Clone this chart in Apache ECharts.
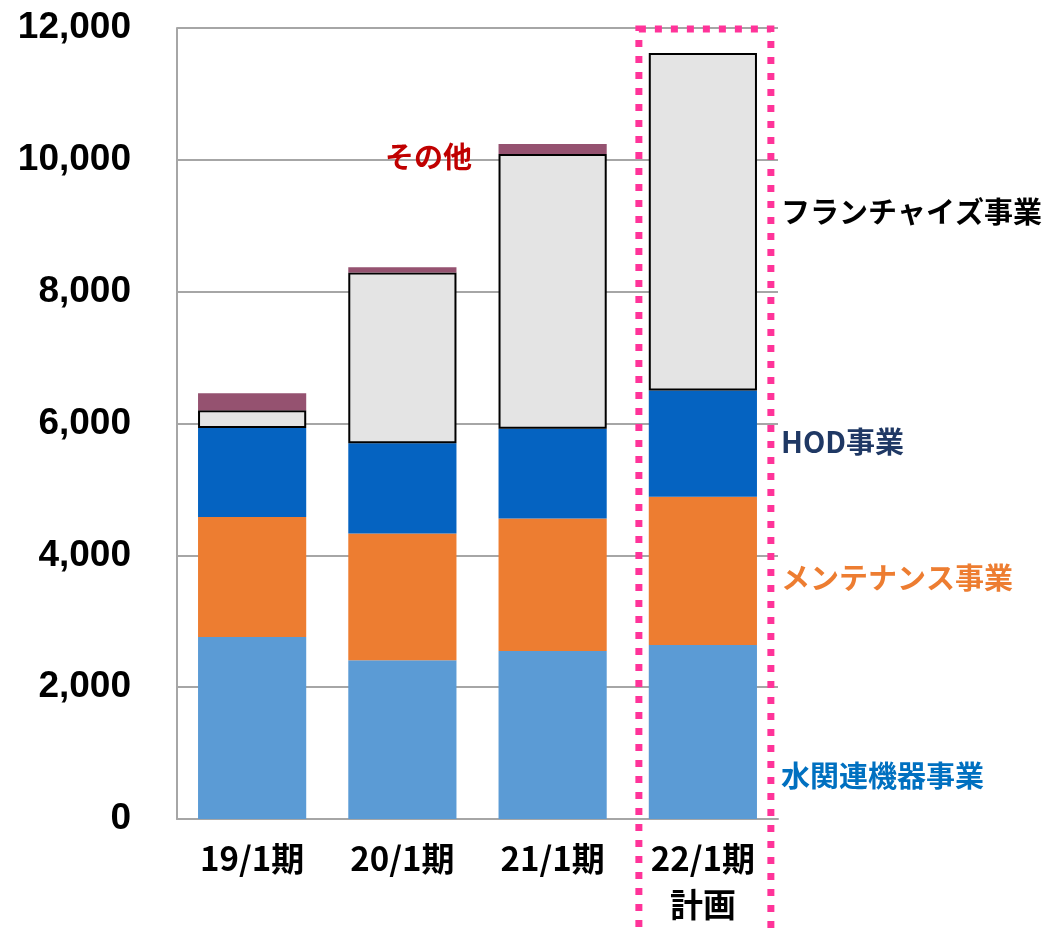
<!DOCTYPE html>
<html>
<head>
<meta charset="utf-8">
<script src="https://cdn.jsdelivr.net/npm/echarts@6/dist/echarts.min.js"></script>
<style>
html, body { margin: 0; padding: 0; background: #fff; }
#main { width: 1047px; height: 933px; }
</style>
</head>
<body>
<div id="main"></div>
<script>
// カテゴリ
var categories = ['19/1期', '20/1期', '21/1期', '22/1期\n計画'];
// 事業別の値
var mizu = [2760, 2410, 2550, 2640];       // 水関連機器事業
var mente = [1820, 1920, 2010, 2250];      // メンテナンス事業
var hod = [1350, 1370, 1360, 1610];        // HOD事業
var franchise = [270, 2590, 4170, 5120];   // フランチャイズ事業
var sonota = [260, 80, 150, 0];            // その他
var yTicks = [0, 2000, 4000, 6000, 8000, 10000, 12000];

var myChart = echarts.init(document.getElementById('main'));

function bar (name, data, color, extra) {
  var s = {
    name: name,
    type: 'bar',
    stack: 'total',
    barWidth: '72%',
    data: data,
    itemStyle: { color: color }
  };
  if (extra) s.itemStyle = Object.assign(s.itemStyle, extra);
  return s;
}

var option = {
  animation: false,
  grid: { left: 177, right: 269, top: 28, bottom: 114 },
  xAxis: {
    type: 'category',
    data: categories,
    axisLine: { lineStyle: { color: '#A6A6A6', width: 2 } },
    axisTick: { inside: true, length: 10, lineStyle: { color: '#A6A6A6', width: 2 } },
    axisLabel: {
      color: '#000',
      fontWeight: 'bold',
      fontSize: 33,
      lineHeight: 46,
      margin: 16,
      fontFamily: '"Noto Sans CJK JP"'
    }
  },
  yAxis: {
    type: 'value',
    min: yTicks[0],
    max: yTicks[yTicks.length - 1],
    interval: 2000,
    axisLine: { show: true, lineStyle: { color: '#A6A6A6', width: 2 } },
    axisTick: { show: false },
    splitLine: { lineStyle: { color: '#A6A6A6', width: 2 } },
    axisLabel: {
      color: '#000',
      fontWeight: 'bold',
      fontSize: 37,
      margin: 46,
      fontFamily: '"Liberation Sans", Arial',
      formatter: function (v) { return v.toLocaleString('en-US'); }
    }
  },
  series: [
    bar('水関連機器事業', mizu, '#5B9BD5'),
    bar('メンテナンス事業', mente, '#ED7D31'),
    bar('HOD事業', hod, '#0563C1'),
    bar('フランチャイズ事業', franchise, '#E4E4E4', { borderColor: '#000', borderWidth: 2 }),
    bar('その他', sonota, '#955270')
  ]
};

myChart.setOption(option);

// 右側の凡例テキストと計画の点線枠
var lbl = { fontSize: 29, fontWeight: 'bold', fontFamily: '"Noto Sans CJK JP"' };
var cx = myChart.convertToPixel({ xAxisIndex: 0 }, categories[3]);
var yTop = myChart.convertToPixel({ yAxisIndex: 0 }, 12000);
function txt (x, y, text, color) {
  return { type: 'text', x: x, y: y, style: Object.assign({ text: text, fill: color, verticalAlign: 'middle' }, lbl) };
}
myChart.setOption({
  graphic: [
    {
      type: 'rect',
      shape: { x: cx - 64, y: yTop + 1, width: 132, height: 933 },
      style: { fill: 'none', stroke: '#FF3399', lineWidth: 7, lineDash: [7, 9] },
      z: 100
    },
    txt(781, 212, 'フランチャイズ事業', '#000'),
    txt(781, 442, 'HOD事業', '#1F3864'),
    txt(781, 578, 'メンテナンス事業', '#ED7D31'),
    txt(781, 776, '水関連機器事業', '#0070C0'),
    txt(385, 157, 'その他', '#C00000')
  ]
});
</script>
</body>
</html>
